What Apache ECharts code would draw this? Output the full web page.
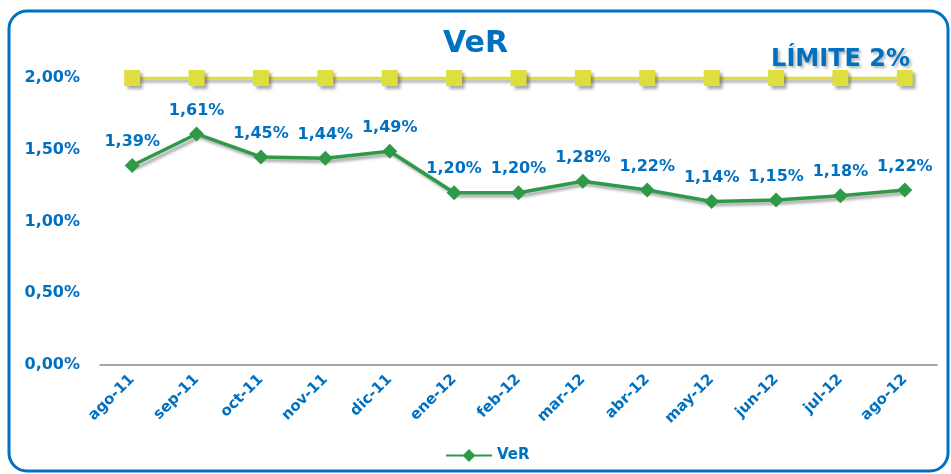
<!DOCTYPE html>
<html>
<head>
<meta charset="utf-8">
<script src="https://cdn.jsdelivr.net/npm/echarts@6/dist/echarts.min.js"></script>
<style>
  html, body { margin: 0; padding: 0; background: #fff; }
  #chart { width: 951px; height: 474px; }
</style>
</head>
<body>
<div id="chart"></div>
<script>
const months = ['ago-11', 'sep-11', 'oct-11', 'nov-11', 'dic-11', 'ene-12', 'feb-12',
  'mar-12', 'abr-12', 'may-12', 'jun-12', 'jul-12', 'ago-12']
const verValues = [1.39, 1.61, 1.45, 1.44, 1.49, 1.20, 1.20, 1.28, 1.22, 1.14, 1.15, 1.18, 1.22]
const limitValues = [2, 2, 2, 2, 2, 2, 2, 2, 2, 2, 2, 2, 2]

const blue = '#0070c0'
const font = 'DejaVu Sans'
const fmt = function(v) {
  return v.toFixed(2).replace('.', ',') + '%'
}

const chart = echarts.init(document.getElementById('chart'))
chart.setOption({
  animation: false,
  title: [
    {
      text: 'VeR',
      left: 'center',
      top: 24,
      textStyle: { color: blue, fontSize: 30, fontWeight: 'bold', fontFamily: font }
    },
    {
      text: 'LÍMITE 2%',
      right: 36,
      top: 43,
      textStyle: {
        color: blue, fontSize: 24, fontWeight: 'bold', fontFamily: font,
        textShadowColor: 'rgba(0,0,0,0.3)', textShadowBlur: 3, textShadowOffsetX: 2, textShadowOffsetY: 2
      }
    }
  ],
  graphic: [
    {
      type: 'rect',
      shape: { x: 9, y: 11, width: 939, height: 460, r: 18 },
      style: { fill: 'none', stroke: blue, lineWidth: 3 },
      silent: true
    }
  ],
  grid: { left: 100, right: 14, top: 78, bottom: 109 },
  legend: {
    data: [{ name: 'VeR' }],
    bottom: 6,
    left: 440,
    itemWidth: 46,
    itemHeight: 16,
    itemGap: 4,
    textStyle: { color: blue, fontSize: 15, fontWeight: 'bold', fontFamily: font }
  },
  xAxis: {
    type: 'category',
    data: months,
    boundaryGap: true,
    axisLine: { lineStyle: { color: '#888', width: 1.5 } },
    axisTick: { show: false },
    axisLabel: {
      rotate: 45,
      interval: 0,
      margin: 12,
      color: blue,
      fontSize: 15,
      fontWeight: 'bold',
      fontFamily: font
    }
  },
  yAxis: {
    type: 'value',
    min: 0,
    max: 2,
    interval: 0.5,
    splitLine: { show: false },
    axisLine: { show: false },
    axisTick: { show: false },
    axisLabel: {
      margin: 20,
      color: blue,
      fontSize: 16,
      fontWeight: 'bold',
      fontFamily: font,
      formatter: fmt
    }
  },
  series: [
    {
      name: 'Límite',
      type: 'line',
      data: limitValues,
      symbol: 'rect',
      symbolSize: 16,
      lineStyle: {
        color: '#dede3e', width: 3,
        shadowColor: 'rgba(0,0,0,0.35)', shadowBlur: 3, shadowOffsetX: 3, shadowOffsetY: 3
      },
      itemStyle: {
        color: '#dede3e',
        shadowColor: 'rgba(0,0,0,0.35)', shadowBlur: 3, shadowOffsetX: 3, shadowOffsetY: 3
      },
      z: 2
    },
    {
      name: 'VeR',
      type: 'line',
      data: verValues,
      symbol: 'diamond',
      symbolSize: 15,
      lineStyle: {
        color: '#2e9a48', width: 3.5,
        shadowColor: 'rgba(0,0,0,0.35)', shadowBlur: 3, shadowOffsetX: 3, shadowOffsetY: 3
      },
      itemStyle: { color: '#2e9a48' },
      label: {
        show: true,
        position: 'top',
        distance: 8,
        color: blue,
        fontSize: 16,
        fontWeight: 'bold',
        fontFamily: font,
        formatter: function(p) { return fmt(p.value) }
      },
      z: 3
    }
  ]
})
</script>
</body>
</html>
